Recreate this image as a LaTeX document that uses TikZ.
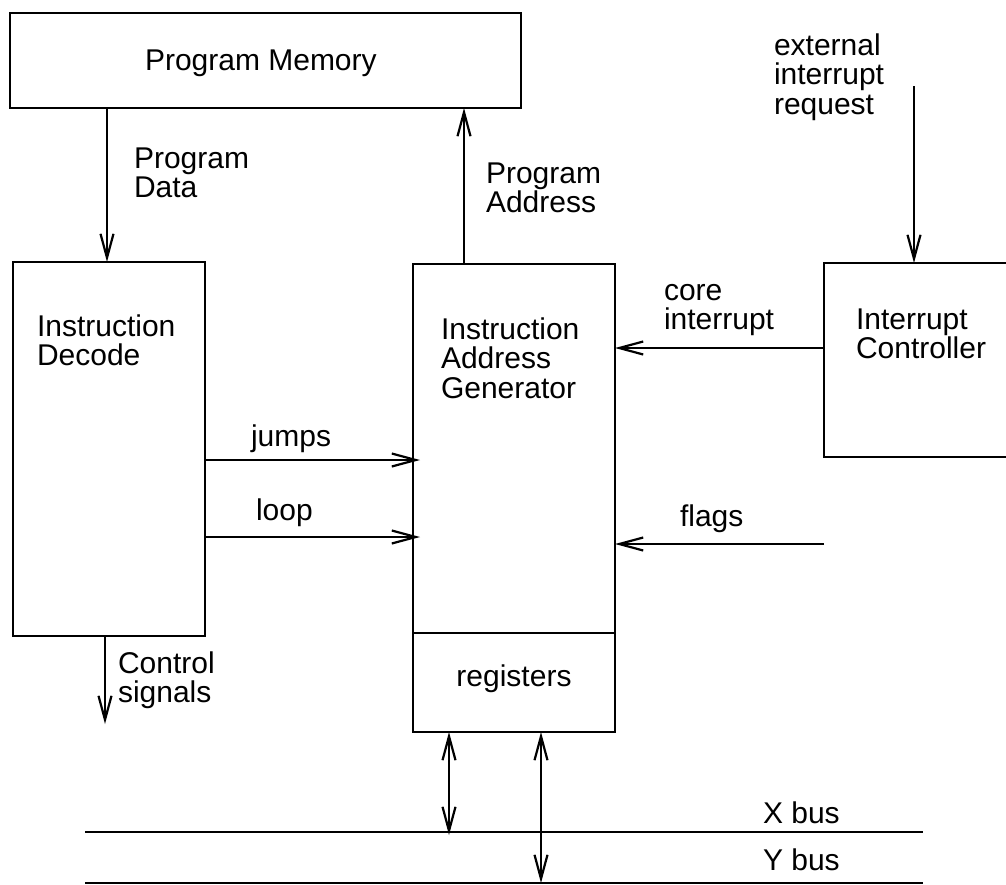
\documentclass[tikz,border=0pt]{standalone}
\usepackage{fontspec}
\setmainfont{Liberation Sans}
\usetikzlibrary{arrows.meta}
\newcommand\twol[2]{\vtop{\baselineskip=29.5pt\lineskiplimit=-30pt\hbox{#1}\hbox{#2}}}
\newcommand\threel[3]{\vtop{\baselineskip=29.5pt\lineskiplimit=-30pt\hbox{#1}\hbox{#2}\hbox{#3}}}
\begin{document}
\begin{tikzpicture}[x=1pt,y=-1pt,line width=2.2pt,
  box/.style={draw,rectangle,inner sep=0pt,outer sep=0pt},
  lbl/.style={inner sep=0pt,outer sep=0pt,anchor=base west,font=\fontsize{30}{29.5}\selectfont},
  arr/.style={-{Straight Barb[length=24pt,width=13pt]}},
  darr/.style={{Straight Barb[length=24pt,width=13pt]}-{Straight Barb[length=24pt,width=13pt]}}]
\useasboundingbox[fill=white] (0,0) rectangle (1006,884);
% boxes
\node[box,minimum width=511pt,minimum height=95pt] (pm) at (265.5,60.5) {};
\node[box,minimum width=192pt,minimum height=374pt] (id) at (109,449) {};
\node[box,minimum width=202pt,minimum height=468pt] (iag) at (514,498) {};
\node[box,minimum width=202pt,minimum height=99pt] (reg) at (514,682.5) {};
\node[box,minimum width=188pt,minimum height=194pt] (ic) at (918,360) {};
% box texts
\node[lbl] (pmt) at (145,70) {Program Memory};
\node[lbl] (idt) at (37,336) {\twol{Instruction}{Decode}};
\node[lbl] (iagt) at (441,339) {\threel{Instruction}{Address}{Generator}};
\node[lbl,anchor=base] (regt) at (514,686) {registers};
\node[lbl] (ict) at (856,329) {\twol{Interrupt}{Controller}};
% connector labels
\node[lbl] (pdl) at (134,168) {\twol{Program}{Data}};
\node[lbl] (pal) at (486,183) {\twol{Program}{Address}};
\node[lbl] (exl) at (774,55) {\threel{external}{interrupt}{request}};
\node[lbl] (cil) at (664,300) {\twol{core}{interrupt}};
\node[lbl] (jl) at (251,446) {jumps};
\node[lbl] (ll) at (256,520) {loop};
\node[lbl] (fl) at (680,526) {flags};
\node[lbl] (csl) at (118,673) {\twol{Control}{signals}};
\node[lbl] (xbl) at (763,823) {X bus};
\node[lbl] (ybl) at (763,870) {Y bus};
% coordinates
\coordinate (cpd) at (107,0);
\coordinate (cpa) at (464,0);
\coordinate (ext) at (914,86);
\coordinate (cci) at (0,348);
\coordinate (cfl) at (824,544);
\coordinate (jt) at (420,460);
\coordinate (lt) at (420,537);
\coordinate (cs) at (105,724);
\coordinate (xa) at (85,832);
\coordinate (xb) at (923,832);
\coordinate (ya) at (85,883);
\coordinate (yb) at (923,883);
\coordinate (b1) at (449,835);
\coordinate (b2) at (541,883);
% connectors
\draw[arr] (pm.south -| cpd) -- (id.north -| cpd);
\draw[arr] (iag.north -| cpa) -- (pm.south -| cpa);
\draw[arr] (ext) -- (ic.north -| ext);
\draw[arr] (ic.west |- cci) -- (iag.east |- cci);
\draw[arr] (cfl) -- (iag.east |- cfl);
\draw[arr] (id.east |- jt) -- (jt);
\draw[arr] (id.east |- lt) -- (lt);
\draw[arr] (id.south -| cs) -- (cs);
\draw (xa) -- (xb);
\draw (ya) -- (yb);
\draw[darr] (iag.south -| b1) -- (b1);
\draw[darr] (iag.south -| b2) -- (b2);
\end{tikzpicture}
\end{document}
